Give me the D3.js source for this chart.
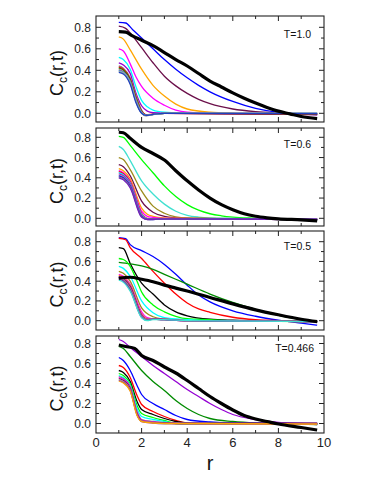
<!DOCTYPE html>
<html>
<head>
<meta charset="utf-8">
<script src="https://cdn.jsdelivr.net/npm/d3@7"></script>
<style>
  html, body { margin: 0; padding: 0; background: #fff; }
  svg { display: block; font-family: "Liberation Sans", Arial, sans-serif; }
</style>
</head>
<body>
<div id="chart"></div>
<script>
// ---- data: C_c(r,t) curves, one list of [r, value] per curve ----
const temps = ["T=1.0", "T=0.6", "T=0.5", "T=0.466"];
const xTicks = [0, 2, 4, 6, 8, 10];
const yTicks = [0, 0.2, 0.4, 0.6, 0.8];

// panel 1 : T=1.0
const thin1 = [
  { c: "#0000ff", v: [[1,0.845],[1.3,0.84],[1.6,0.78],[2,0.70],[2.5,0.60],[3,0.50],[3.5,0.41],[4,0.33],[4.5,0.26],[5,0.20],[6,0.11],[7,0.045],[8,0.008],[9,-0.008],[9.7,-0.015]] },
  { c: "#6b0f4a", v: [[1,0.81],[1.3,0.79],[1.6,0.72],[2,0.61],[2.5,0.47],[3,0.345],[3.5,0.255],[4,0.185],[4.5,0.13],[5,0.09],[6,0.04],[7,0.015],[8,0.003],[9,-0.005],[9.7,-0.01]] },
  { c: "#ffa500", v: [[1,0.71],[1.2,0.69],[1.5,0.59],[2,0.41],[2.5,0.26],[3,0.16],[3.5,0.085],[4,0.04],[5,0.01],[6,0.002],[8,-0.003],[9.7,-0.005]] },
  { c: "#ff00ff", v: [[1,0.60],[1.2,0.58],[1.5,0.46],[1.75,0.34],[2,0.25],[2.5,0.14],[3,0.075],[3.5,0.03],[4,0.01],[5,0.0],[9.7,-0.005]] },
  { c: "#00ffff", v: [[1,0.52],[1.2,0.50],[1.5,0.41],[1.75,0.25],[2,0.12],[2.25,0.06],[2.5,0.03],[3,0.01],[4,0.0],[9.7,-0.005]] },
  { c: "#9400d3", v: [[1,0.47],[1.2,0.45],[1.5,0.37],[1.75,0.19],[2,0.07],[2.25,0.02],[2.5,0.005],[3,0.0],[9.7,-0.01]] },
  { c: "#808080", v: [[1,0.44],[1.2,0.42],[1.5,0.33],[1.75,0.17],[2,0.03],[2.2,-0.015],[2.5,-0.01],[3,0.0],[9.7,0.0]] },
  { c: "#ff0000", v: [[1,0.43],[1.2,0.41],[1.5,0.32],[1.75,0.15],[2,0.02],[2.2,-0.015],[2.5,-0.008],[3,0.0],[9.7,-0.012]] },
  { c: "#008b00", v: [[1,0.42],[1.2,0.40],[1.5,0.31],[1.75,0.14],[2,0.015],[2.2,-0.02],[2.5,-0.01],[3,0.0],[9.7,-0.005]] },
  { c: "#bc8f8f", v: [[1,0.41],[1.2,0.39],[1.5,0.30],[1.75,0.13],[2,0.01],[2.2,-0.02],[2.5,-0.01],[3,0.0],[9.7,0.0]] },
  { c: "#7221bc", v: [[1,0.40],[1.2,0.385],[1.5,0.29],[1.75,0.12],[2,0.005],[2.2,-0.02],[2.5,-0.01],[3,0.0],[9.7,-0.003]] },
  { c: "#40e0d0", v: [[1,0.395],[1.2,0.38],[1.5,0.285],[1.75,0.115],[2,0.005],[2.2,-0.02],[2.5,-0.012],[3,0.0],[9.7,0.0]] },
  { c: "#a0a0a0", v: [[1,0.39],[1.2,0.375],[1.5,0.28],[1.75,0.11],[2,0.0],[2.2,-0.025],[2.5,-0.012],[3,0.0],[9.7,0.0]] },
  { c: "#1f3fbf", v: [[1,0.38],[1.2,0.365],[1.5,0.27],[1.75,0.10],[2,0.0],[2.2,-0.02],[2.5,-0.01],[3,0.0],[9.7,-0.002]] }
];
const thick1 = [[1,0.76],[1.3,0.755],[1.6,0.72],[2,0.68],[2.5,0.63],[3,0.565],[3.5,0.50],[4,0.44],[4.5,0.37],[5,0.30],[5.5,0.245],[6,0.19],[6.5,0.14],[7,0.095],[7.5,0.055],[8,0.02],[8.5,-0.005],[9,-0.03],[9.7,-0.05]];

// panel 2 : T=0.6
const thin2 = [
  { c: "#00ff00", v: [[1,0.81],[1.2,0.80],[1.5,0.72],[2,0.58],[2.5,0.45],[3,0.32],[3.5,0.215],[4,0.135],[4.5,0.08],[5,0.045],[5.5,0.025],[6,0.012],[7,0.0],[8,-0.01],[9,-0.015],[9.7,-0.02]] },
  { c: "#40e0d0", v: [[1,0.71],[1.2,0.68],[1.5,0.57],[2,0.37],[2.5,0.24],[3,0.14],[3.5,0.07],[4,0.03],[4.5,0.012],[5,0.004],[6,0.0],[9.7,-0.01]] },
  { c: "#9c8c1c", v: [[1,0.60],[1.2,0.58],[1.5,0.48],[2,0.27],[2.5,0.12],[3,0.05],[3.5,0.015],[4,0.003],[5,0.0],[9.7,-0.01]] },
  { c: "#6b0f4a", v: [[1,0.53],[1.2,0.51],[1.5,0.42],[2,0.17],[2.5,0.06],[3,0.02],[3.5,0.005],[4,0.0],[9.7,-0.01]] },
  { c: "#ffa500", v: [[1,0.49],[1.2,0.47],[1.5,0.39],[2,0.10],[2.25,0.04],[2.5,0.02],[3,0.005],[4,0.0],[9.7,-0.01]] },
  { c: "#ff00ff", v: [[1,0.47],[1.2,0.45],[1.5,0.37],[2,0.07],[2.25,0.02],[2.5,0.01],[3,0.0],[9.7,-0.012]] },
  { c: "#ff0000", v: [[1,0.46],[1.2,0.44],[1.5,0.36],[2,0.05],[2.25,0.0],[2.5,-0.005],[3,-0.005],[9.7,-0.012]] },
  { c: "#00ffff", v: [[1,0.45],[1.2,0.43],[1.5,0.35],[2,0.04],[2.25,-0.005],[2.5,-0.01],[3,-0.005],[9.7,-0.01]] },
  { c: "#9400d3", v: [[1,0.44],[1.2,0.42],[1.5,0.34],[2,0.03],[2.25,-0.01],[2.5,-0.01],[3,-0.005],[9.7,-0.012]] },
  { c: "#bc8f8f", v: [[1,0.43],[1.2,0.41],[1.5,0.33],[2,0.025],[2.25,-0.01],[2.5,-0.01],[3,-0.005],[9.7,-0.01]] },
  { c: "#0000ff", v: [[1,0.42],[1.2,0.40],[1.5,0.32],[2,0.02],[2.25,-0.01],[2.5,-0.012],[3,-0.005],[9.7,-0.012]] },
  { c: "#808080", v: [[1,0.41],[1.2,0.39],[1.5,0.31],[2,0.015],[2.25,-0.012],[2.5,-0.012],[3,-0.005],[9.7,-0.01]] },
  { c: "#7221bc", v: [[1,0.40],[1.2,0.38],[1.5,0.30],[2,0.01],[2.25,-0.012],[2.5,-0.01],[3,-0.005],[9.7,-0.012]] }
];
const thick2 = [[1,0.85],[1.2,0.845],[1.5,0.79],[2,0.70],[2.5,0.64],[3,0.575],[3.5,0.47],[4,0.37],[4.5,0.28],[5,0.20],[5.5,0.135],[6,0.085],[6.5,0.045],[7,0.02],[7.5,0.005],[8,-0.005],[9,-0.015],[9.7,-0.025]];

// panel 3 : T=0.5
const thin3 = [
  { c: "#0000ff", v: [[1,0.84],[1.3,0.83],[1.5,0.77],[2,0.71],[2.5,0.65],[3,0.57],[3.5,0.47],[4,0.36],[4.5,0.26],[5,0.19],[6,0.10],[7,0.045],[8,0.005],[9,-0.025],[9.7,-0.045]] },
  { c: "#ff0000", v: [[1,0.835],[1.3,0.82],[1.5,0.74],[2,0.63],[2.5,0.50],[3,0.38],[3.5,0.27],[4,0.18],[4.5,0.12],[5,0.085],[6,0.035],[7,0.01],[8,0.0],[9.7,-0.01]] },
  { c: "#000000", v: [[1,0.74],[1.2,0.73],[1.5,0.58],[2,0.38],[2.5,0.27],[3,0.16],[3.5,0.09],[4,0.05],[5,0.015],[6,0.005],[7,0.0],[9.7,-0.01]] },
  { c: "#008b00", v: [[1,0.59],[1.5,0.575],[2,0.555],[2.5,0.52],[3,0.47],[3.5,0.42],[4,0.37],[5,0.27],[6,0.185],[7,0.115],[8,0.055],[9,0.01],[9.7,-0.015]] },
  { c: "#00ff00", v: [[1,0.63],[1.2,0.62],[1.5,0.55],[1.8,0.40],[2,0.29],[2.5,0.16],[3,0.09],[3.5,0.045],[4,0.02],[5,0.01],[6,0.0],[9.7,-0.01]] },
  { c: "#00ffff", v: [[1,0.55],[1.2,0.53],[1.5,0.45],[2,0.20],[2.5,0.08],[3,0.03],[4,0.01],[5,0.0],[9.7,-0.01]] },
  { c: "#9c8c1c", v: [[1,0.50],[1.2,0.48],[1.5,0.40],[2,0.13],[2.5,0.04],[3,0.015],[4,0.0],[9.7,-0.01]] },
  { c: "#ff00ff", v: [[1,0.47],[1.2,0.45],[1.5,0.37],[2,0.09],[2.25,0.03],[2.5,0.02],[3,0.01],[4,0.0],[9.7,-0.01]] },
  { c: "#ffa500", v: [[1,0.46],[1.2,0.44],[1.5,0.36],[2,0.07],[2.25,0.02],[2.5,0.02],[3,0.015],[4,0.0],[9.7,-0.01]] },
  { c: "#9400d3", v: [[1,0.45],[1.2,0.43],[1.5,0.35],[2,0.06],[2.25,0.015],[2.5,0.02],[3,0.015],[4,0.0],[9.7,-0.01]] },
  { c: "#6b0f4a", v: [[1,0.44],[1.2,0.42],[1.5,0.34],[2,0.05],[2.25,0.01],[2.5,0.015],[3,0.01],[4,0.0],[9.7,-0.01]] },
  { c: "#bc8f8f", v: [[1,0.435],[1.2,0.415],[1.5,0.33],[2,0.045],[2.25,0.01],[2.5,0.02],[3,0.01],[4,0.0],[9.7,-0.01]] },
  { c: "#808080", v: [[1,0.43],[1.2,0.41],[1.5,0.32],[2,0.04],[2.25,0.005],[2.5,0.015],[3,0.01],[4,0.0],[9.7,-0.01]] },
  { c: "#7221bc", v: [[1,0.42],[1.2,0.40],[1.5,0.31],[2,0.035],[2.25,0.005],[2.5,0.015],[3,0.01],[4,0.0],[9.7,-0.01]] },
  { c: "#40e0d0", v: [[1,0.41],[1.2,0.39],[1.5,0.30],[2,0.03],[2.25,0.0],[2.5,0.01],[3,0.01],[4,0.0],[9.7,-0.01]] }
];
const thick3 = [[1,0.43],[1.5,0.44],[2,0.42],[2.5,0.395],[3,0.36],[3.5,0.33],[4,0.30],[5,0.235],[6,0.17],[7,0.11],[8,0.06],[9,0.015],[9.7,-0.01]];

// panel 4 : T=0.466
const thin4 = [
  { c: "#9400d3", v: [[1,0.84],[1.2,0.82],[1.5,0.76],[2,0.67],[2.5,0.58],[3,0.50],[3.5,0.42],[4,0.34],[4.5,0.27],[5,0.20],[5.5,0.14],[6,0.09],[7,0.04],[8,0.01],[9,0.0],[9.7,-0.01]] },
  { c: "#008b00", v: [[1,0.77],[1.2,0.75],[1.5,0.67],[2,0.53],[2.5,0.42],[3,0.33],[3.5,0.23],[4,0.15],[4.5,0.09],[5,0.05],[6,0.02],[7,0.005],[8,0.0],[9.7,-0.01]] },
  { c: "#0000ff", v: [[1,0.66],[1.2,0.63],[1.5,0.53],[1.8,0.38],[2,0.29],[2.5,0.20],[3,0.14],[3.5,0.08],[4,0.04],[5,0.015],[6,0.005],[9.7,0.0]] },
  { c: "#ff0000", v: [[1,0.58],[1.2,0.56],[1.5,0.46],[1.8,0.28],[2,0.19],[2.5,0.12],[3,0.07],[3.5,0.03],[4,0.005],[5,0.0],[9.7,0.0]] },
  { c: "#000000", v: [[1,0.53],[1.2,0.51],[1.5,0.42],[1.8,0.22],[2,0.14],[2.5,0.09],[3,0.05],[3.5,0.02],[4,0.005],[5,0.0],[9.7,-0.005]] },
  { c: "#00ff00", v: [[1,0.50],[1.2,0.48],[1.5,0.40],[1.8,0.18],[2,0.10],[2.5,0.06],[3,0.03],[3.5,0.0],[4,-0.005],[5,0.0],[9.7,-0.005]] },
  { c: "#00ffff", v: [[1,0.48],[1.2,0.46],[1.5,0.38],[1.8,0.15],[2,0.07],[2.5,0.04],[3,0.02],[3.5,0.0],[9.7,-0.005]] },
  { c: "#808080", v: [[1,0.47],[1.2,0.45],[1.5,0.37],[1.8,0.12],[2,0.04],[2.5,0.02],[3,0.01],[4,0.0],[9.7,0.0]] },
  { c: "#ff00ff", v: [[1,0.46],[1.2,0.44],[1.5,0.36],[1.8,0.11],[2,0.035],[2.5,0.015],[3,0.005],[4,0.0],[9.7,-0.005]] },
  { c: "#6b0f4a", v: [[1,0.45],[1.2,0.43],[1.5,0.35],[1.8,0.10],[2,0.03],[2.5,0.01],[3,0.005],[4,0.0],[9.7,0.0]] },
  { c: "#bc8f8f", v: [[1,0.44],[1.2,0.42],[1.5,0.34],[1.8,0.09],[2,0.025],[2.5,0.01],[3,0.0],[9.7,-0.005]] },
  { c: "#7221bc", v: [[1,0.43],[1.2,0.41],[1.5,0.33],[1.8,0.085],[2,0.02],[2.5,0.005],[3,0.0],[9.7,0.0]] },
  { c: "#ffa500", v: [[1,0.425],[1.2,0.405],[1.5,0.325],[1.8,0.08],[2,0.02],[2.5,0.005],[3,0.0],[9.7,-0.005]] }
];
const thick4 = [[1,0.785],[1.3,0.77],[1.7,0.75],[2,0.68],[2.5,0.63],[3,0.565],[3.5,0.505],[4,0.43],[4.5,0.35],[5,0.27],[5.5,0.20],[6,0.135],[6.5,0.08],[7,0.045],[7.5,0.02],[8,-0.005],[9,-0.04],[9.7,-0.065]];

const thinSets = [thin1, thin2, thin3, thin4];
const thickSets = [thick1, thick2, thick3, thick4];

// ---- layout (pixels) ----
const W = 383, H = 495;
const panels = [
  { top: 16,  bottom: 122, y0: 113.3, y8: 27.3,  lx: 311, ly: 38 },
  { top: 128, bottom: 226, y0: 218.3, y8: 137.3, lx: 311, ly: 148 },
  { top: 231, bottom: 330, y0: 320.7, y8: 241.7, lx: 311, ly: 250 },
  { top: 336, bottom: 433, y0: 423.5, y8: 343.5, lx: 314, ly: 352 }
];

const x = d3.scaleLinear().domain([0, 10]).range([96, 324]);

const svg = d3.select("#chart").append("svg")
  .attr("width", W).attr("height", H);

const line = (y) => d3.line()
  .x(d => x(d[0])).y(d => y(d[1]))
  .curve(d3.curveMonotoneX);

panels.forEach((p, i) => {
  const y = d3.scaleLinear().domain([0, 0.8]).range([p.y0, p.y8]);
  const g = svg.append("g");
  const clipId = "clip" + i;

  svg.append("clipPath").attr("id", clipId)
    .append("rect")
    .attr("x", x(0)).attr("y", p.top)
    .attr("width", x(10) - x(0)).attr("height", p.bottom - p.top);

  const plot = g.append("g").attr("clip-path", `url(#${clipId})`);

  plot.selectAll("path.thin")
    .data(thinSets[i])
    .join("path")
    .attr("class", "thin")
    .attr("fill", "none")
    .attr("stroke", d => d.c)
    .attr("stroke-width", 1.3)
    .attr("d", d => line(y)(d.v));

  plot.append("path")
    .attr("fill", "none")
    .attr("stroke", "#000")
    .attr("stroke-width", 3.2)
    .attr("stroke-linejoin", "round")
    .attr("d", line(y)(thickSets[i]));

  // frame
  g.append("rect")
    .attr("x", x(0)).attr("y", p.top)
    .attr("width", x(10) - x(0)).attr("height", p.bottom - p.top)
    .attr("fill", "none").attr("stroke", "#222").attr("stroke-width", 1.1);

  // inward ticks: y major/minor on both sides
  const yMinor = d3.range(0.1, 0.8, 0.2);
  const yT = yTicks.map(v => ({ v, len: 5 })).concat(yMinor.map(v => ({ v, len: 3 })));
  [[x(0), 1], [x(10), -1]].forEach(([px, dir]) => {
    g.selectAll(null).data(yT).join("line")
      .attr("x1", px).attr("x2", d => px + dir * d.len)
      .attr("y1", d => y(d.v)).attr("y2", d => y(d.v))
      .attr("stroke", "#222").attr("stroke-width", 1);
  });

  // inward ticks: x major/minor top and bottom
  const xT = d3.range(1, 10).map(v => ({ v, len: v % 2 === 0 ? 5 : 3 }));
  [[p.bottom, -1], [p.top, 1]].forEach(([py, dir]) => {
    g.selectAll(null).data(xT).join("line")
      .attr("x1", d => x(d.v)).attr("x2", d => x(d.v))
      .attr("y1", py).attr("y2", d => py + dir * d.len)
      .attr("stroke", "#222").attr("stroke-width", 1);
  });

  // y tick labels
  g.selectAll(null).data(yTicks).join("text")
    .attr("x", 91).attr("y", d => y(d) + 4.3)
    .attr("text-anchor", "end")
    .attr("font-size", 12).attr("fill", "#222")
    .text(d => d.toFixed(1));

  // y title
  const cy = (p.top + p.bottom) / 2 + 4;
  const t = g.append("text")
    .attr("transform", `translate(63,${cy}) rotate(-90)`)
    .attr("text-anchor", "middle")
    .attr("font-size", 18).attr("fill", "#111");
  t.append("tspan").text("C");
  t.append("tspan").attr("font-size", 12).attr("dy", 4).text("c");
  t.append("tspan").attr("dy", -4).text("(r,t)");

  // temperature label
  g.append("text")
    .attr("x", p.lx).attr("y", p.ly)
    .attr("text-anchor", "end")
    .attr("font-size", 10.5).attr("fill", "#111")
    .text(temps[i]);
});

// bottom x tick labels and title
const last = panels[panels.length - 1];
svg.selectAll("text.xt").data(xTicks).join("text")
  .attr("class", "xt")
  .attr("x", d => x(d)).attr("y", last.bottom + 14)
  .attr("text-anchor", "middle")
  .attr("font-size", 13).attr("fill", "#222")
  .text(d => d);

svg.append("text")
  .attr("x", 210).attr("y", 470)
  .attr("text-anchor", "middle")
  .attr("font-size", 20).attr("fill", "#111")
  .text("r");
</script>
</body>
</html>
